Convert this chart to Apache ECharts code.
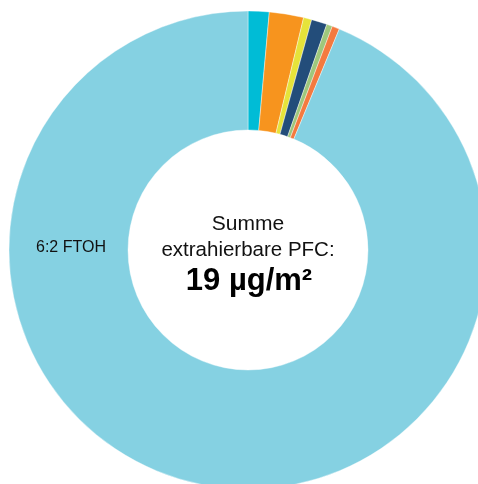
<!DOCTYPE html>
<html><head><meta charset="utf-8">
<script src="https://cdn.jsdelivr.net/npm/echarts@6/dist/echarts.min.js"></script>
<style>html,body{margin:0;padding:0;background:#fff}#c{width:478px;height:484px}</style>
</head><body><div id="c"></div>
<script>
const categories = ['PFC 1', 'PFC 2', 'PFC 3', 'PFC 4', 'PFC 5', 'PFC 6', '6:2 FTOH'];
const values = [0.27, 0.44, 0.105, 0.20, 0.074, 0.095, 17.8];
const colors = ['#00bcd6', '#f7941e', '#e6e33a', '#234d7a', '#9fc77c', '#f47a3f', '#85d1e2'];
const centerLines = ['Summe', 'extrahierbare PFC:', '19 µg/m²'];

const chart = echarts.init(document.getElementById('c'), null, {renderer: 'canvas'});
chart.setOption({
  animation: false,
  series: [{
    type: 'pie',
    center: [248, 250],
    radius: [120, 239],
    startAngle: 90,
    clockwise: true,
    avoidLabelOverlap: false,
    label: {show: false},
    labelLine: {show: false},
    itemStyle: {borderColor: '#ffffff', borderWidth: 0.4},
    data: categories.map((n, i) => ({name: n, value: values[i], itemStyle: {color: colors[i]}}))
  }],
  graphic: {
    elements: [
      {type: 'text', x: 36, y: 248, z: 100, style: {text: categories[6], font: '16px "Liberation Sans", Arial, sans-serif', fill: '#111', align: 'left', verticalAlign: 'middle'}},
      {type: 'text', x: 248, y: 224, z: 100, style: {text: centerLines[0], font: '21px "Liberation Sans", Arial, sans-serif', fill: '#111', align: 'center', verticalAlign: 'middle'}},
      {type: 'text', x: 248, y: 250, z: 100, style: {text: centerLines[1], font: '20.5px "Liberation Sans", Arial, sans-serif', fill: '#111', align: 'center', verticalAlign: 'middle'}},
      {type: 'text', x: 249, y: 281, z: 100, style: {text: centerLines[2], font: 'bold 31px "Liberation Sans", Arial, sans-serif', fill: '#000', align: 'center', verticalAlign: 'middle'}}
    ]
  }
});
</script></body></html>
